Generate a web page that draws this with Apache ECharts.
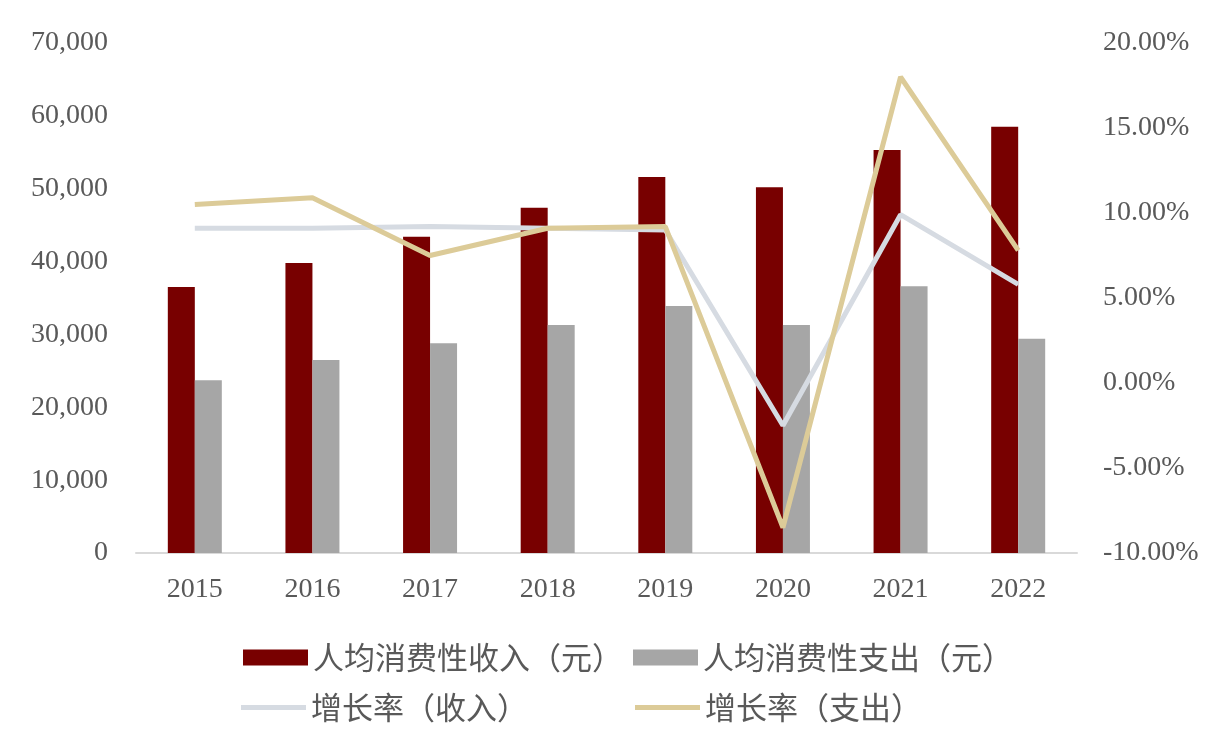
<!DOCTYPE html>
<html>
<head>
<meta charset="utf-8">
<script src="https://cdn.jsdelivr.net/npm/echarts@6/dist/echarts.min.js"></script>
<style>html,body{margin:0;padding:0;background:#fff;}#c{width:1226px;height:756px;}</style>
</head>
<body>
<div id="c"></div>
<script>
var categories = ['2015','2016','2017','2018','2019','2020','2021','2022'];
var incomeValues = [36500, 39800, 43400, 47400, 51600, 50200, 55300, 58500];
var spendValues = [23700, 26500, 28800, 31300, 33900, 31300, 36600, 29400];
var incomeGrowth = [9.1, 9.1, 9.2, 9.1, 9.0, -2.5, 9.9, 5.8];
var spendGrowth = [10.5, 10.9, 7.5, 9.1, 9.2, -8.5, 18.0, 7.8];
var seriesNames = ['人均消费性收入（元）', '人均消费性支出（元）', '增长率（收入）', '增长率（支出）'];

var chart = echarts.init(document.getElementById('c'), null, {renderer: 'canvas'});
var axisFont = {fontFamily: 'Liberation Serif', fontSize: 28, color: '#595959'};
var legendText = {fontFamily: 'Noto Sans CJK SC', fontSize: 31, color: '#595959'};
function lg(name, left, top, h) {
  return {
    data: [name], left: left, top: top, itemWidth: 65, itemHeight: h, icon: 'rect',
    textStyle: legendText, selectedMode: false
  };
}
chart.setOption({
  animation: false,
  backgroundColor: '#ffffff',
  grid: {left: 136, right: 149, top: 43, bottom: 203},
  legend: [
    lg(seriesNames[0], 238, 637, 16),
    lg(seriesNames[1], 628, 637, 16),
    lg(seriesNames[2], 236, 687, 5),
    lg(seriesNames[3], 630, 687, 5)
  ],
  xAxis: {
    type: 'category', data: categories,
    axisLine: {show: true, lineStyle: {color: '#d9d9d9', width: 2}},
    axisTick: {show: false},
    axisLabel: Object.assign({margin: 23}, axisFont)
  },
  yAxis: [
    {
      type: 'value', min: 0, max: 70000, interval: 10000,
      splitLine: {show: false}, axisLine: {show: false}, axisTick: {show: false},
      axisLabel: Object.assign({margin: 28, formatter: function (v) { return v.toLocaleString('en-US'); }}, axisFont)
    },
    {
      type: 'value', min: -10, max: 20, interval: 5, position: 'right',
      splitLine: {show: false}, axisLine: {show: false}, axisTick: {show: false},
      axisLabel: Object.assign({margin: 26, formatter: function (v) { return v.toFixed(2) + '%'; }}, axisFont)
    }
  ],
  series: [
    {name: seriesNames[0], type: 'bar', data: incomeValues, barWidth: 27, barGap: '0%',
     itemStyle: {color: '#780000'}},
    {name: seriesNames[1], type: 'bar', data: spendValues, barWidth: 27,
     itemStyle: {color: '#a6a6a6'}},
    {name: seriesNames[2], type: 'line', yAxisIndex: 1, data: incomeGrowth, symbol: 'none',
     lineStyle: {color: '#d6dbe2', width: 5}, itemStyle: {color: '#d6dbe2'}},
    {name: seriesNames[3], type: 'line', yAxisIndex: 1, data: spendGrowth, symbol: 'none',
     lineStyle: {color: '#dccb98', width: 5}, itemStyle: {color: '#dccb98'}}
  ]
});
</script>
</body>
</html>
